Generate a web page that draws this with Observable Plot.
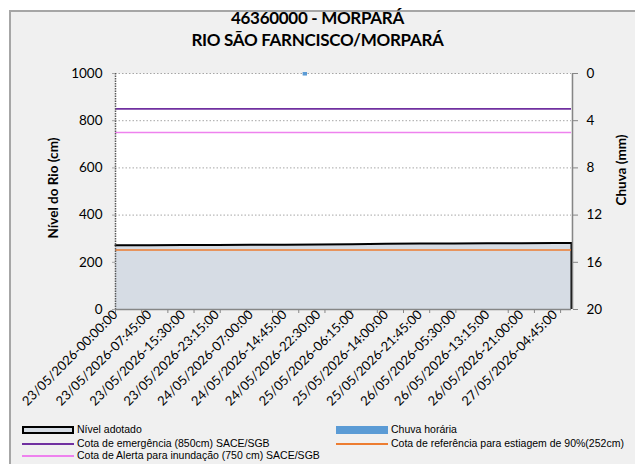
<!DOCTYPE html>
<html><head><meta charset="utf-8">
<script src="https://cdn.jsdelivr.net/npm/d3@7"></script>
<script src="https://cdn.jsdelivr.net/npm/@observablehq/plot@0.6"></script>
<style>
body{margin:0;background:#fff;}
#wrap{position:relative;width:635px;height:464px;overflow:hidden;background:#fff;font-family:Lato,"Open Sans",sans-serif;}
#frame{position:absolute;left:9px;top:10px;width:660px;height:500px;border:2px solid #a6a6a6;background:#f0f0f0;box-sizing:border-box;}
#chart{position:absolute;left:0;top:0;}
#chart svg{background:transparent;overflow:visible;}
.title{position:absolute;left:0;width:635px;text-align:center;font-weight:bold;font-size:17px;color:#000;line-height:20px;letter-spacing:-0.3px;}
.ytitle{position:absolute;font-weight:bold;font-size:13.5px;white-space:nowrap;transform-origin:center center;}
.leg{position:absolute;font-family:"Liberation Sans Narrow","Liberation Sans",sans-serif;font-size:10.5px;white-space:nowrap;color:#000;}
.sw{position:absolute;box-sizing:border-box;}
</style></head>
<body>
<div id="wrap">
  <div id="frame"></div>
  <div id="chart"></div>
</div>
<script>
// ---- data ----
const titleLines = ["46360000 - MORPARÁ", "RIO SÃO FARNCISCO/MORPARÁ"];
const yLeftTitle = "Nível do Rio (cm)";
const yRightTitle = "Chuva (mm)";
const xLabels = ["23/05/2026-00:00:00","23/05/2026-07:45:00","23/05/2026-15:30:00","23/05/2026-23:15:00",
  "24/05/2026-07:00:00","24/05/2026-14:45:00","24/05/2026-22:30:00","25/05/2026-06:15:00",
  "25/05/2026-14:00:00","25/05/2026-21:45:00","26/05/2026-05:30:00","26/05/2026-13:15:00",
  "26/05/2026-21:00:00","27/05/2026-04:45:00"];
const xStart = "23/05/2026-00:00:00";
const xEnd = "27/05/2026-08:30:00";
const levelTimes = ["23/05/2026-00:00:00","23/05/2026-07:45:00","23/05/2026-15:30:00","23/05/2026-23:15:00",
  "24/05/2026-07:00:00","24/05/2026-14:45:00","24/05/2026-22:30:00","25/05/2026-06:15:00",
  "25/05/2026-14:00:00","25/05/2026-21:45:00","26/05/2026-05:30:00","26/05/2026-13:15:00",
  "26/05/2026-21:00:00","27/05/2026-04:45:00","27/05/2026-08:30:00"];
const levelValues = [272, 272, 273, 273, 274, 274, 275, 276, 279, 280, 280, 281, 281, 282, 282];
const rainTimes = ["24/05/2026-19:00:00"];
const rainValues = [0.3];
const thresholdNames = ["Cota de emergência  (850cm) SACE/SGB","Cota de referência para  estiagem de 90%(252cm)","Cota de Alerta  para inundação (750 cm) SACE/SGB"];
const thresholdValues = [850, 252, 750];
const thresholdColors = ["#7030a0", "#ed7d31", "#ee82ee"];
const levelName = "Nível adotado";
const rainName = "Chuva horária";
const leftTicks = [0, 200, 400, 600, 800, 1000];
const rightTicks = [0, 4, 8, 12, 16, 20];
const rainMax = 20, levelMax = 1000;

// ---- build ----
const parse = d3.utcParse("%d/%m/%Y-%H:%M:%S");
const level = levelTimes.map((t, i) => ({t: parse(t), v: levelValues[i]}));
const rain = rainTimes.map((t, i) => ({t1: parse(t), t2: d3.utcHour.offset(parse(t), 1), mm: rainValues[i]}));
const thresholds = thresholdValues.map((v, i) => ({v, color: thresholdColors[i], name: thresholdNames[i]}));
const toY = mm => levelMax - mm * levelMax / rainMax;
const domainX = [parse(xStart), parse(xEnd)];
const labelDates = xLabels.map(parse);
const labelMap = new Map(xLabels.map((s, i) => [+labelDates[i], s]));
const minorTicks = d3.utcHour.every(6).range(domainX[0], d3.utcMinute.offset(domainX[1], 1));

const plot = Plot.plot({
  width: 635, height: 464,
  marginLeft: 115, marginRight: 64, marginTop: 73, marginBottom: 155,
  style: {fontFamily: "Lato, 'Open Sans', sans-serif", fontSize: "13px", color: "#000", background: "transparent"},
  x: {type: "utc", domain: domainX},
  y: {domain: [0, levelMax]},
  marks: [
    Plot.frame({fill: "white", stroke: null}),
    Plot.gridY(leftTicks.filter(d => d > 0), {stroke: "#a6a6a6", strokeOpacity: 1, strokeDasharray: "1.5,2"}),
    Plot.areaY(level, {x: "t", y: "v", fill: "#d6dce4"}),
    Plot.lineY(level, {x: "t", y: "v", stroke: "#000", strokeWidth: 2}),
    Plot.ruleX([domainX[1]], {y1: 0, y2: levelValues[levelValues.length - 1], stroke: "#000", strokeWidth: 2}),
    Plot.ruleY(thresholds, {y: "v", stroke: "color", strokeWidth: 1.6}),
    Plot.rect(rain, {x1: "t1", x2: "t2", y1: levelMax, y2: d => toY(d.mm), fill: "#5b9bd5", dy: -1}),
    Plot.ruleX([domainX[0]], {stroke: "#595959", strokeWidth: 1.5, strokeDasharray: "1.5,1"}),
    Plot.ruleX([domainX[1]], {stroke: "#868686", strokeWidth: 1.5, dx: 1}),
    Plot.ruleY([0], {stroke: "#868686", strokeWidth: 1.5}),
    Plot.axisY({ticks: leftTicks, tickSize: 3, tickPadding: 10, tickFormat: d3.format("d"), stroke: "#a6a6a6", label: null, fontSize: 13.5}),
    Plot.axisY({anchor: "right", ticks: rightTicks.map(toY), tickSize: 5, tickPadding: 9, dx: 1, tickFormat: d => String(Math.round((levelMax - d) * rainMax / levelMax)), stroke: "#868686", label: null, fontSize: 13.5}),
    Plot.axisX({ticks: minorTicks, tickSize: 4, tickFormat: () => "", stroke: "#868686", label: null}),
    Plot.axisX({ticks: labelDates, tickSize: 0, tickPadding: 3, tickRotate: -45, tickFormat: d => labelMap.get(+d), label: null, fontSize: 13, fontFamily: "Lato, sans-serif", letterSpacing: "-0.4px"})
  ]
});
document.getElementById("chart").appendChild(plot);

const wrap = document.getElementById("wrap");
function add(cls, text, css) {
  const el = document.createElement("div");
  el.className = cls;
  if (text != null) el.textContent = text;
  Object.assign(el.style, css);
  wrap.appendChild(el);
  return el;
}
titleLines.forEach((t, i) => add("title", t, {top: (8 + i * 22) + "px"}));
add("ytitle", yLeftTitle, {left: "-7px", top: "180px", width: "120px", textAlign: "center", transform: "rotate(-90deg)"});
add("ytitle", yRightTitle, {left: "576px", top: "162px", width: "90px", textAlign: "center", transform: "rotate(-90deg)"});

// legend
const legendItems = [
  {name: levelName, kind: "box", color: "#d6dce4", col: 0, row: 0},
  {name: rainName, kind: "bar", color: "#5b9bd5", col: 1, row: 0},
  {name: thresholds[0].name, kind: "line", color: thresholds[0].color, col: 0, row: 1},
  {name: thresholds[1].name, kind: "line", color: thresholds[1].color, col: 1, row: 1},
  {name: thresholds[2].name, kind: "line", color: thresholds[2].color, col: 0, row: 2}
];
const colX = [22, 336], rowY = [430, 444, 456];
legendItems.forEach(it => {
  const x = colX[it.col], y = rowY[it.row];
  if (it.kind === "box") add("sw", null, {left: x + "px", top: (y - 4) + "px", width: "52px", height: "8px", background: it.color, border: "2px solid #000"});
  else if (it.kind === "bar") add("sw", null, {left: x + "px", top: (y - 4) + "px", width: "52px", height: "8px", background: it.color});
  else add("sw", null, {left: x + "px", top: (y - 1) + "px", width: "52px", height: "2px", background: it.color});
  add("leg", it.name, {left: (x + 55) + "px", top: (y - 7) + "px"});
});
</script>
</body></html>
